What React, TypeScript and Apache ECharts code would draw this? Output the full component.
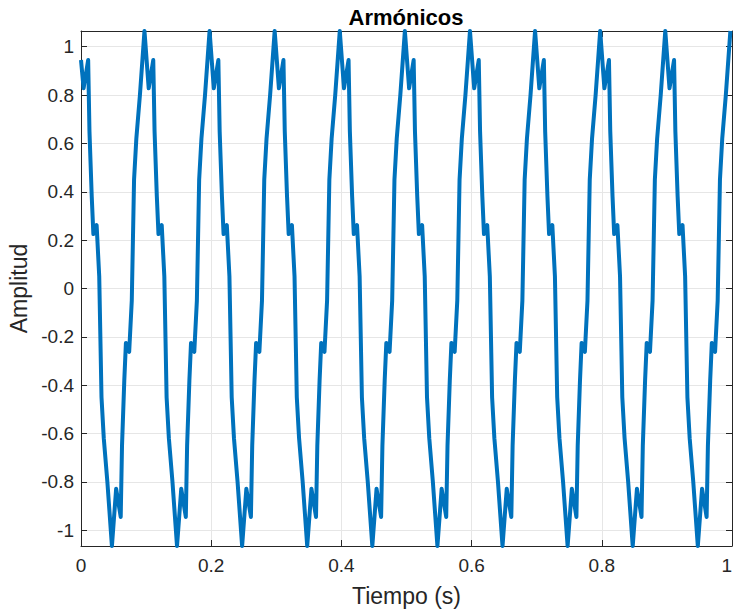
import React, { useEffect, useRef } from "react";
import * as echarts from "echarts";

// Sample times (s) and amplitudes
const timeValues: number[] = [
  0, 0.004, 0.011, 0.013, 0.0165, 0.019, 0.024, 0.028, 0.0315, 0.035, 0.0405, 0.0475, 0.054, 0.061, 0.063, 0.0665, 0.069, 0.074, 0.078, 0.0815, 0.085, 0.0905,
  0.0975, 0.104, 0.111, 0.113, 0.1165, 0.119, 0.124, 0.128, 0.1315, 0.135, 0.1405, 0.1475, 0.154, 0.161, 0.163, 0.1665, 0.169, 0.174, 0.178, 0.1815, 0.185, 0.1905,
  0.1975, 0.204, 0.211, 0.213, 0.2165, 0.219, 0.224, 0.228, 0.2315, 0.235, 0.2405, 0.2475, 0.254, 0.261, 0.263, 0.2665, 0.269, 0.274, 0.278, 0.2815, 0.285, 0.2905,
  0.2975, 0.304, 0.311, 0.313, 0.3165, 0.319, 0.324, 0.328, 0.3315, 0.335, 0.3405, 0.3475, 0.354, 0.361, 0.363, 0.3665, 0.369, 0.374, 0.378, 0.3815, 0.385, 0.3905,
  0.3975, 0.404, 0.411, 0.413, 0.4165, 0.419, 0.424, 0.428, 0.4315, 0.435, 0.4405, 0.4475, 0.454, 0.461, 0.463, 0.4665, 0.469, 0.474, 0.478, 0.4815, 0.485, 0.4905,
  0.4975, 0.504, 0.511, 0.513, 0.5165, 0.519, 0.524, 0.528, 0.5315, 0.535, 0.5405, 0.5475, 0.554, 0.561, 0.563, 0.5665, 0.569, 0.574, 0.578, 0.5815, 0.585, 0.5905,
  0.5975, 0.604, 0.611, 0.613, 0.6165, 0.619, 0.624, 0.628, 0.6315, 0.635, 0.6405, 0.6475, 0.654, 0.661, 0.663, 0.6665, 0.669, 0.674, 0.678, 0.6815, 0.685, 0.6905,
  0.6975, 0.704, 0.711, 0.713, 0.7165, 0.719, 0.724, 0.728, 0.7315, 0.735, 0.7405, 0.7475, 0.754, 0.761, 0.763, 0.7665, 0.769, 0.774, 0.778, 0.7815, 0.785, 0.7905,
  0.7975, 0.804, 0.811, 0.813, 0.8165, 0.819, 0.824, 0.828, 0.8315, 0.835, 0.8405, 0.8475, 0.854, 0.861, 0.863, 0.8665, 0.869, 0.874, 0.878, 0.8815, 0.885, 0.8905,
  0.8975, 0.904, 0.911, 0.913, 0.9165, 0.919, 0.924, 0.928, 0.9315, 0.935, 0.9405, 0.9475, 0.954, 0.961, 0.963, 0.9665, 0.969, 0.974, 0.978, 0.9815, 0.985, 0.9905,
  0.9975,
];

const amplitudeValues: number[] = [
  0.945, 0.828, 0.945, 0.65, 0.38, 0.225, 0.262, 0.05, -0.45, -0.62, -0.8, -1.065, -0.828, -0.945, -0.65, -0.38, -0.225, -0.262, -0.05, 0.45, 0.62, 0.8,
  1.065, 0.828, 0.945, 0.65, 0.38, 0.225, 0.262, 0.05, -0.45, -0.62, -0.8, -1.065, -0.828, -0.945, -0.65, -0.38, -0.225, -0.262, -0.05, 0.45, 0.62, 0.8,
  1.065, 0.828, 0.945, 0.65, 0.38, 0.225, 0.262, 0.05, -0.45, -0.62, -0.8, -1.065, -0.828, -0.945, -0.65, -0.38, -0.225, -0.262, -0.05, 0.45, 0.62, 0.8,
  1.065, 0.828, 0.945, 0.65, 0.38, 0.225, 0.262, 0.05, -0.45, -0.62, -0.8, -1.065, -0.828, -0.945, -0.65, -0.38, -0.225, -0.262, -0.05, 0.45, 0.62, 0.8,
  1.065, 0.828, 0.945, 0.65, 0.38, 0.225, 0.262, 0.05, -0.45, -0.62, -0.8, -1.065, -0.828, -0.945, -0.65, -0.38, -0.225, -0.262, -0.05, 0.45, 0.62, 0.8,
  1.065, 0.828, 0.945, 0.65, 0.38, 0.225, 0.262, 0.05, -0.45, -0.62, -0.8, -1.065, -0.828, -0.945, -0.65, -0.38, -0.225, -0.262, -0.05, 0.45, 0.62, 0.8,
  1.065, 0.828, 0.945, 0.65, 0.38, 0.225, 0.262, 0.05, -0.45, -0.62, -0.8, -1.065, -0.828, -0.945, -0.65, -0.38, -0.225, -0.262, -0.05, 0.45, 0.62, 0.8,
  1.065, 0.828, 0.945, 0.65, 0.38, 0.225, 0.262, 0.05, -0.45, -0.62, -0.8, -1.065, -0.828, -0.945, -0.65, -0.38, -0.225, -0.262, -0.05, 0.45, 0.62, 0.8,
  1.065, 0.828, 0.945, 0.65, 0.38, 0.225, 0.262, 0.05, -0.45, -0.62, -0.8, -1.065, -0.828, -0.945, -0.65, -0.38, -0.225, -0.262, -0.05, 0.45, 0.62, 0.8,
  1.065, 0.828, 0.945, 0.65, 0.38, 0.225, 0.262, 0.05, -0.45, -0.62, -0.8, -1.065, -0.828, -0.945, -0.65, -0.38, -0.225, -0.262, -0.05, 0.45, 0.62, 0.8,
  1.065,
];

const titleText = "Armónicos";
const xAxisName = "Tiempo (s)";
const yAxisName = "Amplitud";
const xMin = 0;
const xMax = 1;
const xStep = 0.2;
const yMin = -1.065;
const yMax = 1.065;

const FONT = '"Liberation Sans", Arial, Helvetica, sans-serif';
const AXIS_COLOR = "#262626";
const GRID_COLOR = "#e6e6e6";

export default function App() {
  const ref = useRef<HTMLDivElement>(null);

  useEffect(() => {
    document.body.style.margin = "0";
    const chart = echarts.init(ref.current as HTMLDivElement, null, { renderer: "svg" });
    const data = timeValues.map((t, i) => [t, amplitudeValues[i]]);

    const tickLabel = { color: AXIS_COLOR, fontFamily: FONT, fontSize: 19 };
    const baseLine = { show: true, onZero: false, lineStyle: { color: AXIS_COLOR, width: 1 } };
    const baseTick = { show: true, inside: true, length: 6, lineStyle: { color: AXIS_COLOR, width: 1 } };

    chart.setOption({
      animation: false,
      backgroundColor: "#ffffff",
      graphic: [
        {
          type: "text",
          x: 406,
          y: 17,
          style: {
            text: titleText,
            align: "center",
            verticalAlign: "middle",
            fontFamily: FONT,
            fontSize: 22,
            fontWeight: "bold",
            fill: "#000000",
          },
        },
      ],
      grid: { left: 81, right: 2, top: 31, bottom: 64, containLabel: false, outerBoundsMode: "none" },
      xAxis: [
        {
          type: "value",
          min: xMin,
          max: xMax,
          interval: xStep,
          position: "bottom",
          name: xAxisName,
          nameLocation: "middle",
          nameGap: 38,
          nameTextStyle: { color: AXIS_COLOR, fontFamily: FONT, fontSize: 23 },
          axisLine: baseLine,
          axisTick: baseTick,
          axisLabel: { ...tickLabel, margin: 10, alignMaxLabel: "right" },
          splitLine: { show: true, lineStyle: { color: GRID_COLOR, width: 1 } },
        },
        {
          type: "value",
          min: xMin,
          max: xMax,
          interval: xStep,
          position: "top",
          axisLine: baseLine,
          axisTick: baseTick,
          axisLabel: { show: false },
          splitLine: { show: false },
        },
      ],
      yAxis: [
        {
          type: "value",
          min: yMin,
          max: yMax,
          splitNumber: 10,
          position: "left",
          name: yAxisName,
          nameLocation: "middle",
          nameGap: 45,
          nameTextStyle: { color: AXIS_COLOR, fontFamily: FONT, fontSize: 23 },
          axisLine: baseLine,
          axisTick: baseTick,
          axisLabel: { ...tickLabel, margin: 7, showMinLabel: false, showMaxLabel: false },
          splitLine: { show: true, lineStyle: { color: GRID_COLOR, width: 1 } },
        },
        {
          type: "value",
          min: yMin,
          max: yMax,
          splitNumber: 10,
          position: "right",
          axisLine: baseLine,
          axisTick: baseTick,
          axisLabel: { show: false },
          splitLine: { show: false },
        },
      ],
      series: [
        {
          type: "line",
          data,
          xAxisIndex: 0,
          yAxisIndex: 0,
          showSymbol: false,
          symbol: "none",
          clip: true,
          lineStyle: { color: "#0072BD", width: 4, join: "round" },
        },
      ],
    });

    return () => {
      chart.dispose();
    };
  }, []);

  return <div ref={ref} style={{ width: 734, height: 610 }} />;
}
